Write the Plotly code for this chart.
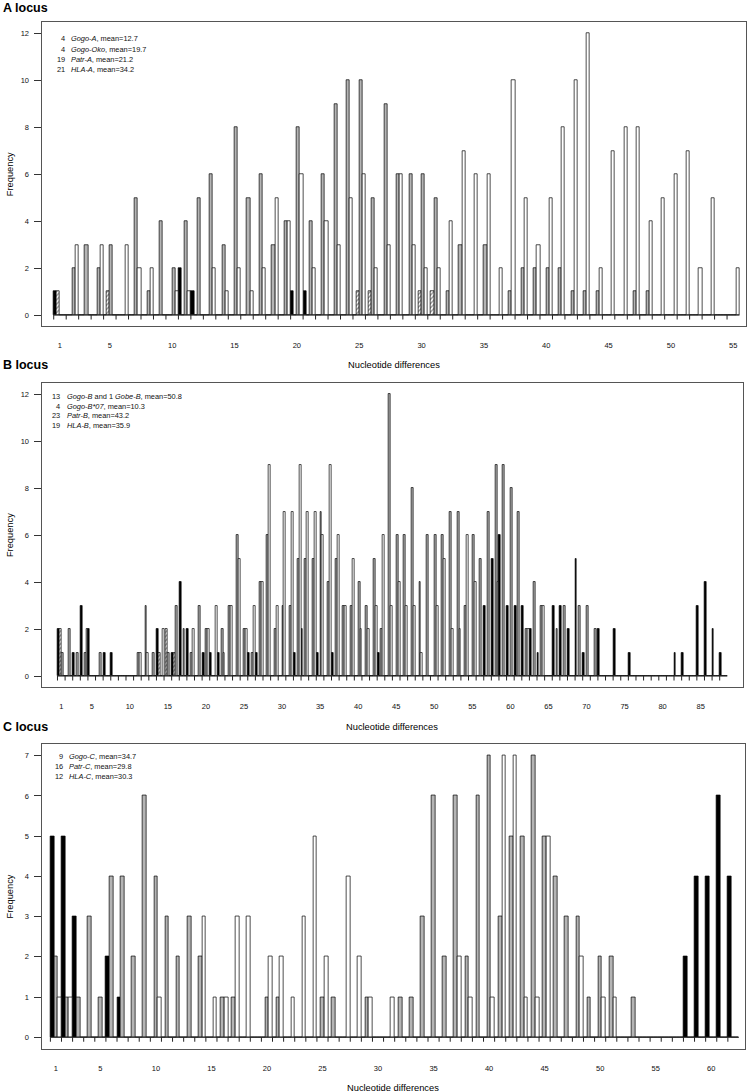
import plotly.graph_objects as go

W, H = 747, 1092
FONT = "Liberation Sans, Arial, Helvetica, sans-serif"

# ---------------- Panel A (A locus) ----------------
a_cats = list(range(1, 56))
a_gogo = [1,0,0,0,0,0,0,0,0,0, 2,1,0,0,0,0,0,0,0,1, 1,0,0,0,0,0,0,0,0,0,
          0,0,0,0,0,0,0,0,0,0, 0,0,0,0,0,0,0,0,0,0, 0,0,0,0,0]
a_oko  = [1,0,0,0,1,0,0,0,0,0, 0,0,0,0,0,0,0,0,0,0, 0,0,0,0,1,1,0,0,0,1,
          1,0,0,0,0,0,0,0,0,0, 0,0,0,0,0,0,0,0,0,0, 0,0,0,0,0]
a_patr = [0,2,3,2,3,0,5,1,4,2, 4,5,6,3,8,5,6,3,4,8, 4,6,9,10,10,5,9,6,6,6,
          5,1,3,0,3,0,1,2,2,2, 2,1,1,1,0,0,1,1,0,0, 0,0,0,0,0]
a_hla  = [0,3,0,3,0,3,2,2,0,1, 1,0,2,1,2,1,2,5,4,6, 2,4,3,5,6,2,3,6,3,2,
          2,4,7,6,6,2,10,5,3,5, 8,10,12,2,7,8,8,4,5,6, 7,2,5,0,2]
a_ticklabels = [1, 5, 10, 15, 20, 25, 30, 35, 40, 45, 50, 55]
a_counts = ["4", "4", "19", "21"]
a_names = ["<i>Gogo-A</i>, mean=12.7", "<i>Gogo-Oko</i>, mean=19.7",
           "<i>Patr-A</i>, mean=21.2", "<i>HLA-A</i>, mean=34.2"]

# ---------------- Panel B (B locus) ----------------
b_cats = list(range(1, 89))
b_gogo = [2,0,1,3,2,0,1,1,0,0, 0,0,0,2,0,1,4,2,0,1, 1,1,0,0,0,1,1,0,0,0,
          0,1,2,0,1,0,1,0,0,0, 0,0,1,0,0,0,0,0,0,0, 0,0,0,0,0,0,3,5,6,3,
          3,3,2,1,0,3,3,2,5,1, 0,2,0,2,0,1,0,0,0,0, 0,1,1,0,3,4,2,1]
b_b07  = [2,0,0,0,0,0,0,0,0,0, 0,0,0,1,2,1,0,0,0,0, 0,0,0,0,0,0,0,0,0,0,
          0,0,0,0,0,0,0,0,0,0, 0,0,0,0,0,0,0,0,0,0, 0,0,0,0,0,0,0,0,0,0,
          0,0,0,0,0,0,0,0,0,0, 0,0,0,0,0,0,0,0,0,0, 0,0,0,0,0,0,0,0]
b_patr = [1,2,1,1,0,1,0,0,0,0, 1,3,1,0,1,3,2,1,3,2, 0,2,3,6,2,1,4,6,2,3,
          3,5,5,5,7,4,5,3,3,4, 3,5,2,12,6,6,8,4,6,6, 6,7,7,3,6,5,7,9,9,8,
          7,2,4,3,0,2,3,0,3,3, 2,0,0,0,0,0,0,0,0,0, 0,0,0,0,0,0,0,0]
b_hla  = [0,0,0,2,0,0,0,0,0,0, 1,1,0,2,0,0,0,2,0,2, 3,1,3,5,2,3,4,9,3,7,
          7,9,7,7,6,9,6,3,5,2, 2,3,6,3,4,3,3,1,0,3, 5,2,2,6,4,0,0,4,0,0,
          0,2,0,3,0,0,0,0,0,0, 0,0,0,0,0,0,0,0,0,0, 0,0,0,0,0,0,0,0]
b_ticklabels = [1, 5, 10, 15, 20, 25, 30, 35, 40, 45, 50, 55, 60, 65, 70, 75, 80, 85]
b_counts = ["13", "4", "23", "19"]
b_names = ["<i>Gogo-B</i> and 1 <i>Gobe-B</i>, mean=50.8", "<i>Gogo-B*07</i>, mean=10.3",
           "<i>Patr-B</i>, mean=43.2", "<i>HLA-B</i>, mean=35.9"]

# ---------------- Panel C (C locus) ----------------
c_cats = list(range(1, 63))
c_gogo = [5,5,3,0,0,2,1,0,0,0, 0,0,0,0,0,0,0,0,0,0, 0,0,0,0,0,0,0,0,0,0,
          0,0,0,0,0,0,0,0,0,0, 0,0,0,0,0,0,0,0,0,0, 0,0,0,0,0,0,0,2,4,4,
          6,4]
c_patr = [2,1,1,3,1,4,4,2,6,4, 3,2,3,2,0,1,1,0,0,1, 1,0,0,0,1,1,0,0,1,0,
          0,1,1,3,6,2,6,2,6,7, 3,5,5,7,5,4,3,3,1,2, 2,0,1,0,0,0,0,0,0,0,
          0,0]
c_hla  = [1,1,0,0,0,0,0,0,0,1, 0,0,0,3,1,1,3,3,0,2, 2,1,3,5,2,0,4,2,1,0,
          1,0,0,0,0,0,2,1,0,1, 7,7,1,1,5,0,0,2,0,1, 1,0,0,0,0,0,0,0,0,0,
          0,0]
c_ticklabels = [1, 5, 10, 15, 20, 25, 30, 35, 40, 45, 50, 55, 60]
c_counts = ["9", "16", "12"]
c_names = ["<i>Gogo-C</i>, mean=34.7", "<i>Patr-C</i>, mean=29.8", "<i>HLA-C</i>, mean=30.3"]

panel_titles = ["A locus", "B locus", "C locus"]

# ---------------- styling ----------------
OUT = dict(color="#000000", width=0.7)
STY = {
    "black": dict(color="#000000", line=OUT),
    "hatch": dict(color="#ffffff", line=OUT,
                  pattern=dict(shape="/", fgcolor="#222222", bgcolor="#ffffff", size=3, solidity=0.45)),
    "gray": dict(color="#b4b4b4", line=OUT),
    "white": dict(color="#ffffff", line=OUT),
}


def fx(p):
    return p / W


def fy(p):
    return 1 - p / H


panels = [
    dict(cats=a_cats, series=[a_gogo, a_oko, a_patr, a_hla], styles=["black", "hatch", "gray", "white"],
         ticks=a_ticklabels, xr=[-0.48, 55.98], yr=[-0.48, 12.48], ytv=list(range(0, 13, 2)),
         xd=[41.5, 745.5], yd=[22.1, 326.3], title_y=8, xt_y=365,
         counts=a_counts, names=a_names, leg_y0=39, leg_dy=10.1, num_x=66.5),
    dict(cats=b_cats, series=[b_gogo, b_b07, b_patr, b_hla], styles=["black", "hatch", "gray", "white"],
         ticks=b_ticklabels, xr=[-1.6, 90.6], yr=[-0.48, 12.48], ytv=list(range(0, 13, 2)),
         xd=[41.5, 743.3], yd=[382.9, 687.3], title_y=365, xt_y=727,
         counts=b_counts, names=b_names, leg_y0=396.7, leg_dy=9.6, num_x=62.3),
    dict(cats=c_cats, series=[c_gogo, c_patr, c_hla], styles=["black", "gray", "white"],
         ticks=c_ticklabels, xr=[-0.3, 63.07], yr=[-0.28, 7.28], ytv=list(range(0, 8)),
         xd=[41.5, 745.3], yd=[744.4, 1048.5], title_y=727, xt_y=1088,
         counts=c_counts, names=c_names, leg_y0=756, leg_dy=10, num_x=65),
]

fig = go.Figure()
shapes = []
annotations = []
layout_axes = {}

for i, p in enumerate(panels):
    n = "" if i == 0 else str(i + 1)
    xa, ya = "x" + n, "y" + n
    for vals, st in zip(p["series"], p["styles"]):
        fig.add_trace(go.Bar(x=p["cats"], y=vals, xaxis=xa, yaxis=ya, marker=STY[st],
                             showlegend=False, hoverinfo="x+y"))
    layout_axes["xaxis" + n] = dict(
        domain=[fx(p["xd"][0]), fx(p["xd"][1])], range=p["xr"], anchor=ya,
        showline=True, mirror=True, linecolor="#555555", linewidth=1,
        tickmode="array", tickvals=p["ticks"], ticks="outside", ticklen=12,
        tickcolor="rgba(0,0,0,0)", tickfont=dict(size=7.5, color="#111111", family=FONT),
        showgrid=False, zeroline=False, fixedrange=True, automargin=False)
    layout_axes["yaxis" + n] = dict(
        domain=[fy(p["yd"][1]), fy(p["yd"][0])], range=p["yr"], anchor=xa,
        showline=True, mirror=True, linecolor="#555555", linewidth=1,
        tickmode="array", tickvals=p["ytv"], ticks="outside", ticklen=7, tickcolor="#333333",
        ticklabelstandoff=3,
        tickfont=dict(size=7.5, color="#111111", family=FONT),
        showgrid=False, zeroline=False, fixedrange=True, automargin=False)

    # baseline and group-boundary ticks (derived from category list)
    cats = p["cats"]
    shapes.append(dict(type="line", xref=xa, yref=ya, x0=cats[0] - 0.5, x1=cats[-1] + 0.5, y0=0, y1=0,
                       line=dict(color="#222222", width=1)))
    for c in cats:
        shapes.append(dict(type="line", xref=xa, yref=ya, ysizemode="pixel", yanchor=0,
                           x0=c - 0.5, x1=c - 0.5, y0=0, y1=-4.5, line=dict(color="#222222", width=1)))

    # panel title
    annotations.append(dict(text="<b>" + panel_titles[i] + "</b>", xref="paper", yref="paper",
                            x=fx(1), y=fy(p["title_y"]), xanchor="left", yanchor="middle", showarrow=False,
                            font=dict(size=12.5, family=FONT, color="#000000")))
    # axis titles
    annotations.append(dict(text="Nucleotide differences", xref="paper", yref="paper",
                            x=fx((p["xd"][0] + p["xd"][1]) / 2), y=fy(p["xt_y"]), xanchor="center",
                            yanchor="middle", showarrow=False, font=dict(size=9.3, family=FONT, color="#000000")))
    annotations.append(dict(text="Frequency", xref="paper", yref="paper", textangle=-90,
                            x=fx(10), y=fy((p["yd"][0] + p["yd"][1]) / 2), xanchor="center",
                            yanchor="middle", showarrow=False, font=dict(size=9.3, family=FONT, color="#000000")))
    # legend text
    for j, (cnt, nm) in enumerate(zip(p["counts"], p["names"])):
        yy = fy(p["leg_y0"] + j * p["leg_dy"])
        annotations.append(dict(text=cnt, xref="paper", yref="paper", x=fx(p["num_x"]), y=yy,
                                xanchor="right", yanchor="middle", showarrow=False,
                                font=dict(size=7.4, family=FONT, color="#111111")))
        annotations.append(dict(text=nm, xref="paper", yref="paper", x=fx(p["num_x"] + 2.2), y=yy,
                                xanchor="left", yanchor="middle", showarrow=False,
                                font=dict(size=7.4, family=FONT, color="#111111")))

fig.update_layout(
    width=W, height=H, margin=dict(l=0, r=0, t=0, b=0),
    paper_bgcolor="#ffffff", plot_bgcolor="#ffffff",
    barmode="group", bargap=0, bargroupgap=0,
    font=dict(family=FONT, size=8, color="#111111"),
    shapes=shapes, annotations=annotations, showlegend=False,
    **layout_axes,
)

fig.write_html("out.html",
               config={"displayModeBar": False, "staticPlot": False},
               post_script="document.body.style.margin='0';document.body.style.padding='0';"
                           "document.body.style.overflow='hidden';")
